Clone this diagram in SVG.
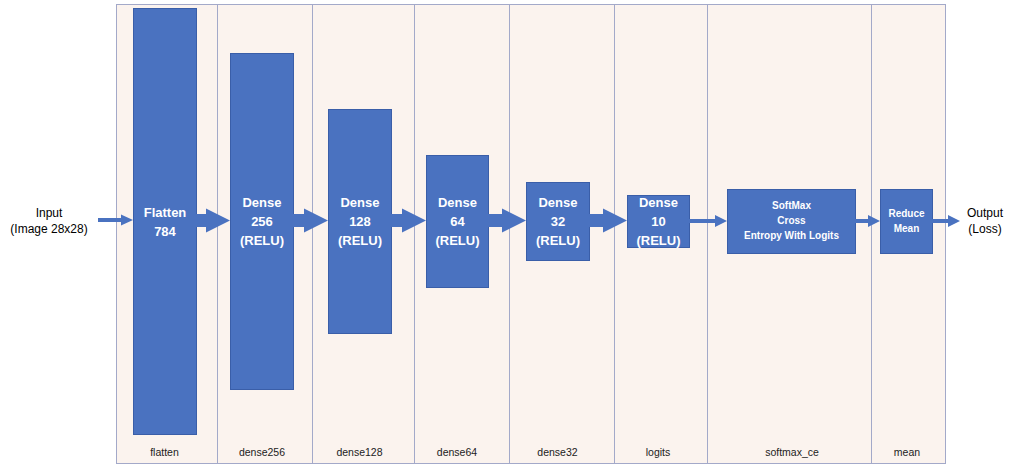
<svg xmlns="http://www.w3.org/2000/svg" width="1024" height="474" viewBox="0 0 1024 474">
<style>
.panel{fill:#FBF3EE;stroke:#A3A9C9;stroke-width:1}
.div{stroke:#A3A9C9;stroke-width:1}
.box{fill:#4A72C0;stroke:#3A5EA8;stroke-width:1}
.bt{font-family:"Liberation Sans",Arial,sans-serif;font-weight:bold;fill:#FFFFFF;text-anchor:middle}
.lbl{font-family:"Liberation Sans",Arial,sans-serif;font-size:12px;fill:#000;text-anchor:middle}
.col{font-family:"Liberation Sans",Arial,sans-serif;font-size:10.5px;fill:#222;text-anchor:middle}
.big{fill:#4A72C0}
.thin{stroke:#4A72C0;stroke-width:4;fill:none}
.head{fill:#4A72C0}
</style>
<rect width="1024" height="474" fill="#FFFFFF"/>
<g id="panel">
<rect class="panel" x="116.5" y="4.5" width="829" height="459"/>
<line class="div" x1="217.5" y1="4.5" x2="217.5" y2="463.5"/>
<line class="div" x1="312.5" y1="4.5" x2="312.5" y2="463.5"/>
<line class="div" x1="414.5" y1="4.5" x2="414.5" y2="463.5"/>
<line class="div" x1="509.5" y1="4.5" x2="509.5" y2="463.5"/>
<line class="div" x1="614.5" y1="4.5" x2="614.5" y2="463.5"/>
<line class="div" x1="707.5" y1="4.5" x2="707.5" y2="463.5"/>
<line class="div" x1="871.5" y1="4.5" x2="871.5" y2="463.5"/>
<text class="col" x="164.5" y="456">flatten</text>
<text class="col" x="262" y="456">dense256</text>
<text class="col" x="359.5" y="456">dense128</text>
<text class="col" x="457" y="456">dense64</text>
<text class="col" x="557.5" y="456">dense32</text>
<text class="col" x="658" y="456">logits</text>
<text class="col" x="792" y="456">softmax_ce</text>
<text class="col" x="907" y="456">mean</text>
</g>
<g id="input">
<text class="lbl" x="49" y="217">Input</text>
<text class="lbl" x="49" y="233">(Image 28x28)</text>
</g>
<g id="output">
<text class="lbl" x="985" y="217">Output</text>
<text class="lbl" x="985" y="233">(Loss)</text>
</g>
<g id="flatten">
<rect class="box" x="133.5" y="8.5" width="63" height="426"/>
<text class="bt" font-size="13" x="165" y="217">Flatten</text>
<text class="bt" font-size="13" x="165" y="236">784</text>
</g>
<g id="dense256">
<rect class="box" x="230.5" y="53.5" width="63" height="336"/>
<text class="bt" font-size="13" x="262" y="207">Dense</text>
<text class="bt" font-size="13" x="262" y="226">256</text>
<text class="bt" font-size="13" x="262" y="245">(RELU)</text>
</g>
<g id="dense128">
<rect class="box" x="328.5" y="109.5" width="63" height="224"/>
<text class="bt" font-size="13" x="360" y="207">Dense</text>
<text class="bt" font-size="13" x="360" y="226">128</text>
<text class="bt" font-size="13" x="360" y="245">(RELU)</text>
</g>
<g id="dense64">
<rect class="box" x="426.5" y="155.5" width="62" height="132"/>
<text class="bt" font-size="13" x="457.5" y="207">Dense</text>
<text class="bt" font-size="13" x="457.5" y="226">64</text>
<text class="bt" font-size="13" x="457.5" y="245">(RELU)</text>
</g>
<g id="dense32">
<rect class="box" x="526.5" y="182.5" width="63" height="78"/>
<text class="bt" font-size="13" x="558" y="207">Dense</text>
<text class="bt" font-size="13" x="558" y="226">32</text>
<text class="bt" font-size="13" x="558" y="245">(RELU)</text>
</g>
<g id="logits">
<rect class="box" x="627.5" y="195.5" width="62" height="52"/>
<text class="bt" font-size="13" x="658.5" y="207">Dense</text>
<text class="bt" font-size="13" x="658.5" y="226">10</text>
<text class="bt" font-size="13" x="658.5" y="245">(RELU)</text>
</g>
<g id="softmax_ce">
<rect class="box" x="727.5" y="189.5" width="128" height="64"/>
<text class="bt" font-size="10" x="791.5" y="209">SoftMax</text>
<text class="bt" font-size="10" x="791.5" y="224">Cross</text>
<text class="bt" font-size="10" x="791.5" y="239">Entropy With Logits</text>
</g>
<g id="mean">
<rect class="box" x="880.5" y="189.5" width="52" height="64"/>
<text class="bt" font-size="10" x="906.5" y="217">Reduce</text>
<text class="bt" font-size="10" x="906.5" y="232">Mean</text>
</g>
<g id="connectors">
<line class="thin" x1="98" y1="220" x2="122" y2="220"/>
<polygon class="head" points="121,214.5 133,220 121,225.5"/>
<polygon class="big" points="196,214 206,214 206,208.5 230,220.5 206,232.5 206,227 196,227"/>
<polygon class="big" points="293,214 304,214 304,208.5 328,220.5 304,232.5 304,227 293,227"/>
<polygon class="big" points="391,214 402,214 402,208.5 426,220.5 402,232.5 402,227 391,227"/>
<polygon class="big" points="488,214 502,214 502,208.5 526,220.5 502,232.5 502,227 488,227"/>
<polygon class="big" points="589,214 603,214 603,208.5 627,220.5 603,232.5 603,227 589,227"/>
<line class="thin" x1="689" y1="221" x2="716" y2="221"/>
<polygon class="head" points="715,215 727,221 715,227"/>
<line class="thin" x1="855" y1="221" x2="869" y2="221"/>
<polygon class="head" points="868,215 880,221 868,227"/>
<line class="thin" x1="932" y1="221" x2="949" y2="221"/>
<polygon class="head" points="948,215 960,221 948,227"/>
</g>
</svg>
